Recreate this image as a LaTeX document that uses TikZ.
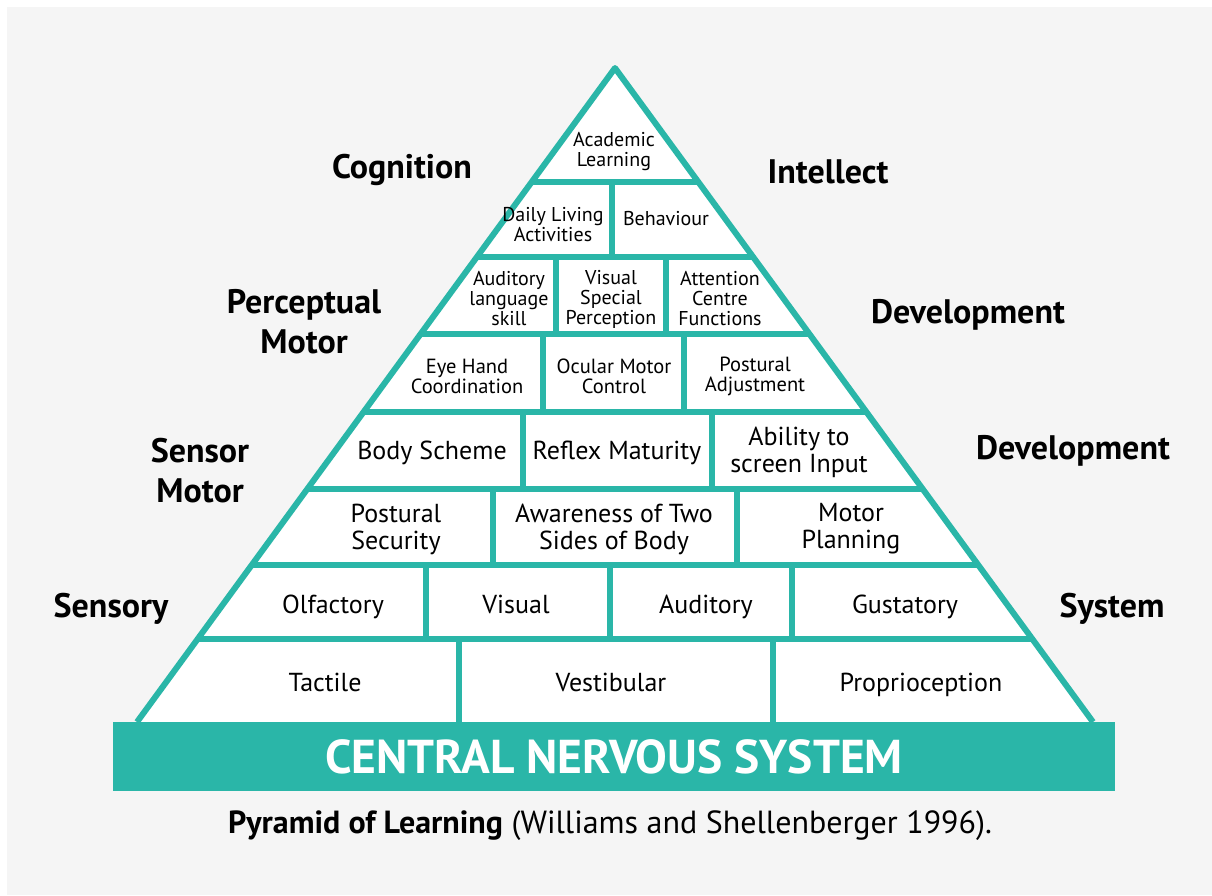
\documentclass[tikz,border=0pt]{standalone}
\usepackage{fontspec}
\setmainfont{PT Sans}
\definecolor{pyrteal}{RGB}{42,182,168}
\definecolor{pagegray}{RGB}{245,245,245}
\begin{document}
\begin{tikzpicture}
			[x=1pt, y=-1pt, rule/.style={draw=pyrteal, line width=6pt},
			small/.style={align=center, inner sep=0pt, font=\fontsize{20}{20}\selectfont},
			mid/.style={align=center, inner sep=0pt, font=\fontsize{20.5}{20}\selectfont},
			big/.style={align=center, inner sep=0pt, font=\fontsize{26}{27}\selectfont},
			side/.style={align=center, inner sep=0pt, font=\bfseries\fontsize{34}{40}\selectfont}]
			\useasboundingbox (0,0) rectangle (1212,895);
			\fill[white] (0,0) rectangle (1212,895);
			\fill[pagegray] (7,7) rectangle (1212,895);
			% pyramid outline
			\coordinate (top) at (615,68);
			\coordinate (bl) at (137,722);
			\coordinate (br) at (1093,722);
			\fill[white] (top) -- (bl) -- (br) -- cycle;
			\begin{scope}
			\clip (top) -- (bl) -- (br) -- cycle;
			\foreach \y in {182,257,334,412,489,565,639}
				\draw[rule] (0,\y) -- (1212,\y);
			\end{scope}
			\foreach \x/\a/\b in {612/182/257, 556/257/334, 666/257/334,
				543/334/412, 684/334/412, 523/412/489, 712/412/489,
				493/489/565, 737/489/565, 426/565/639, 610/565/639, 792/565/639,
				459/639/722, 773/639/722}
				\draw[rule] (\x,\a) -- (\x,\b);
			\draw[rule, line join=round] (bl) -- (top) -- (br);
			% base bar
			\node (cns) at (614,756.5) [fill=pyrteal, minimum width=1002pt, minimum height=69pt,
				text=white, font=\bfseries\fontsize{47.5}{48}\selectfont] {CENTRAL NERVOUS SYSTEM};
			% cells
			\node (acad) at (614,152) [small] {Academic\\Learning};
			\node (daily) at (553,225) [small] {Daily Living\\Activities};
			\node (behav) at (666,225) [small, anchor=base] {Behaviour};
			\node (audl) at (509,299) [small] {Auditory\\language\\skill};
			\node (visp) at (611,299) [small] {Visual\\Special\\Perception};
			\node (attn) at (720,299) [small] {Attention\\Centre\\Functions};
			\node (eyeh) at (467,376) [mid] {Eye Hand\\Coordination};
			\node (ocul) at (614,376) [mid] {Ocular Motor\\Control};
			\node (pada) at (755,376) [mid] {Postural\\Adjustment};
			\node (body) at (432,459) [big, anchor=base] {Body Scheme};
			\node (refl) at (617,459) [big, anchor=base] {Reflex Maturity};
			\node (abil) at (799,452) [big] {Ability to\\screen Input};
			\node (psec) at (396,529) [big] {Postural\\Security};
			\node (awar) at (614,529) [big] {Awareness of Two\\Sides of Body};
			\node (motp) at (851,529) [big] {Motor\\Planning};
			\node (olfa) at (333,613) [big, anchor=base] {Olfactory};
			\node (visu) at (516,613) [big, anchor=base] {Visual};
			\node (audi) at (706,613) [big, anchor=base] {Auditory};
			\node (gust) at (905,613) [big, anchor=base] {Gustatory};
			\node (tact) at (325,691) [big, anchor=base] {Tactile};
			\node (vest) at (611,691) [big, anchor=base] {Vestibular};
			\node (prop) at (921,691) [big, anchor=base] {Proprioception};
			% side labels
			\node (cogn) at (402,178) [side, anchor=base] {Cognition};
			\node (inte) at (828,183) [side, anchor=base] {Intellect};
			\node (perc) at (304,322) [side] {Perceptual\\Motor};
			\node (dev1) at (968,323) [side, anchor=base] {Development};
			\node (sens) at (200,471) [side] {Sensor\\Motor};
			\node (dev2) at (1073,459) [side, anchor=base] {Development};
			\node (sory) at (111,617) [side, anchor=base] {Sensory};
			\node (syst) at (1112,617) [side, anchor=base] {System};
			\node (capt) at (610,833) [inner sep=0pt, anchor=base, font=\fontsize{32}{34}\selectfont]
				{\textbf{Pyramid of Learning} (Williams and Shellenberger 1996).};
			\end{tikzpicture}
\end{document}
